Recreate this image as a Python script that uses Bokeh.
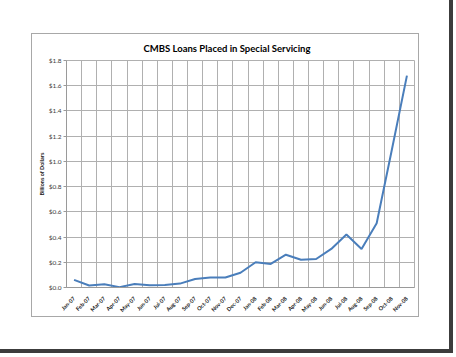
import math
from bokeh.plotting import figure
from bokeh.models import FixedTicker, ColumnDataSource
from bokeh.layouts import column
from bokeh.embed import file_html
from bokeh.resources import INLINE

# ---- data ----
months = ["Jan-07", "Feb-07", "Mar-07", "Apr-07", "May-07", "Jun-07", "Jul-07",
          "Aug-07", "Sep-07", "Oct-07", "Nov-07", "Dec-07", "Jan-08", "Feb-08",
          "Mar-08", "Apr-08", "May-08", "Jun-08", "Jul-08", "Aug-08", "Sep-08",
          "Oct-08", "Nov-08"]
values = [0.060, 0.016, 0.026, 0.003, 0.028, 0.017, 0.019, 0.031, 0.068, 0.080,
          0.079, 0.117, 0.200, 0.187, 0.260, 0.220, 0.226, 0.306, 0.420, 0.306,
          0.510, 1.090, 1.680]
y_ticks = [0.0, 0.2, 0.4, 0.6, 0.8, 1.0, 1.2, 1.4, 1.6, 1.8]
y_tick_labels = ["$0.0", "$0.2", "$0.4", "$0.6", "$0.8", "$1.0", "$1.2", "$1.4", "$1.6", "$1.8"]
title_text = "CMBS Loans Placed in Special Servicing"
y_title = "Billions of Dollars"

n = len(months)
xs = list(range(n))

p = figure(width=388, height=284, output_backend="svg", toolbar_location=None,
           x_range=(-0.5, n - 0.5), y_range=(y_ticks[0], y_ticks[-1]),
           min_border_left=34, min_border_right=6, min_border_top=24,
           min_border_bottom=29, title=title_text)
p.margin = (33, 0, 0, 31)
p.styles = {"border": "1px solid #A8A8A8"}
p.background_fill_color = "white"
p.border_fill_color = "white"
p.outline_line_color = "#B0B0B0"

p.title.text_font = "Lato"
p.title.text_font_style = "bold"
p.title.text_font_size = "9.5px"
p.title.text_color = "#000000"
p.title.align = "left"
p.title.offset = 77
p.title.standoff = 13

src = ColumnDataSource(dict(x=xs, y=values))
p.line("x", "y", source=src, line_color="#4A7EBB", line_width=2)

# x axis
p.xaxis.ticker = FixedTicker(ticks=xs)
p.xaxis.major_label_overrides = {i: m for i, m in enumerate(months)}
p.xaxis.major_label_orientation = math.pi / 4
p.xaxis.major_label_text_font = "Lato"
p.xaxis.major_label_text_font_style = "bold"
p.xaxis.major_label_text_font_size = "5.5px"
p.xaxis.major_label_text_color = "#202020"
p.xaxis.major_label_standoff = 4
p.xaxis.major_tick_line_color = None
p.xaxis.minor_tick_line_color = None
p.xaxis.axis_line_color = "#9A9A9A"

# y axis
p.yaxis.ticker = FixedTicker(ticks=y_ticks)
p.yaxis.major_label_overrides = {t: l for t, l in zip(y_ticks, y_tick_labels)}
p.yaxis.major_label_text_font = "Lato"
p.yaxis.major_label_text_font_size = "6.5px"
p.yaxis.major_label_text_color = "#404040"
p.yaxis.major_label_standoff = 2
p.yaxis.major_tick_in = 0
p.yaxis.major_tick_out = 3
p.yaxis.major_tick_line_color = "#9A9A9A"
p.yaxis.minor_tick_line_color = None
p.yaxis.axis_line_color = "#9A9A9A"
p.yaxis.axis_label = y_title
p.yaxis.axis_label_text_font = "Lato"
p.yaxis.axis_label_text_font_style = "bold"
p.yaxis.axis_label_text_font_size = "5.5px"
p.yaxis.axis_label_text_color = "#202020"
p.yaxis.axis_label_standoff = 1

# grids
p.xgrid.ticker = FixedTicker(ticks=[i - 0.5 for i in range(n + 1)])
p.ygrid.ticker = FixedTicker(ticks=y_ticks)
p.xgrid.grid_line_color = "#B0B0B0"
p.ygrid.grid_line_color = "#B0B0B0"

page = column(p, width=453, height=353,
              styles={"border-right": "4px solid #3C3C3C",
                      "border-bottom": "4px solid #3C3C3C",
                      "background-color": "white"})

open("out.html", "w").write(file_html(page, INLINE))
